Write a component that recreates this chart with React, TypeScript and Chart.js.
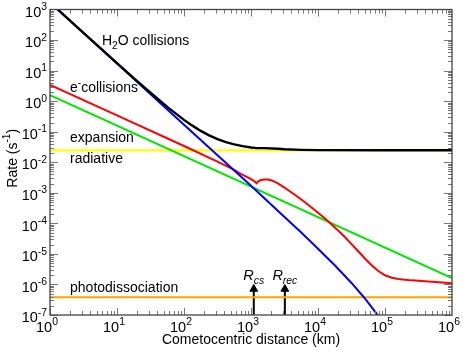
import { useEffect, useRef } from 'react';
import { Chart, registerables } from 'chart.js';

Chart.register(...registerables);

const FONT = '"Liberation Sans", Arial, Helvetica, sans-serif';

// Axis ticks
const xTickValues = [1, 10, 100, 1000, 10000, 100000, 1000000];
const yTickValues = [1e-7, 1e-6, 1e-5, 1e-4, 1e-3, 1e-2, 1e-1, 1, 10, 100, 1000];
const xTitle = 'Cometocentric distance (km)';
const yTitle = 'Rate (s^{-1})';

// H2O collisions (black)
const h2oX = [1, 3.162, 10, 17.78, 31.62, 56.23, 100, 133.4, 177.8, 237.1, 316.2, 421.7, 562.3, 749.9, 1000, 1216, 1585, 2512, 3162, 5623, 10000, 100000, 1000000];
const h2oY = [1705, 171.6, 17.52, 5.67, 1.88, 0.651, 0.244, 0.158, 0.106, 0.0755, 0.0569, 0.0458, 0.0384, 0.0336, 0.0305, 0.029, 0.0289, 0.0276, 0.0266, 0.0255, 0.0249, 0.0246, 0.0246];

// blue curve
const blueX = [1, 10, 100, 1000, 3162, 5623, 10000, 17783, 31623, 50119, 63096, 79433, 100000];
const blueY = [1700, 17, 0.17, 1.7e-3, 1.62e-4, 5.0e-5, 1.48e-5, 4.27e-6, 1.12e-6, 3.47e-7, 1.82e-7, 9.3e-8, 4.5e-8];

// e- collisions (red)
const redX = [1, 10, 100, 316.2, 562.3, 691.8, 794.3, 1000, 1122, 1216, 1259, 1318, 1413, 1585, 1778, 1995, 2239, 2512, 3162, 3981, 5012, 6310, 7943, 10000, 12589, 15849, 19953, 25119, 31623, 39811, 50119, 63096, 79433, 100000, 125893, 158489, 199526, 251189, 398107, 630957, 1000000];
const redY = [3.4, 0.34, 0.034, 0.0105, 5.62e-3, 4.27e-3, 3.63e-3, 2.82e-3, 2.4e-3, 2.04e-3, 2.26e-3, 2.45e-3, 2.63e-3, 2.72e-3, 2.72e-3, 2.57e-3, 2.32e-3, 2.04e-3, 1.47e-3, 1.04e-3, 7.26e-4, 4.98e-4, 3.36e-4, 2.23e-4, 1.46e-4, 9.4e-5, 5.86e-5, 3.56e-5, 2.09e-5, 1.22e-5, 7.1e-6, 4.23e-6, 2.76e-6, 2.0e-6, 1.66e-6, 1.51e-6, 1.43e-6, 1.36e-6, 1.27e-6, 1.17e-6, 1.1e-6];

// expansion (green)
const greenX = [1, 1000000];
const greenY = [1.58, 1.6e-6];

// radiative (yellow)
const yellowX = [1, 1000000];
const yellowY = [0.0245, 0.0245];

// photodissociation (orange)
const orangeX = [1, 1000000];
const orangeY = [3.8e-7, 3.8e-7];

// markers R_cs, R_rec
const markerX = [1100, 3200];
const markerNames = ['R_{cs}', 'R_{rec}'];
const arrowBaseY = 1e-7;
const arrowTopY = 7.1e-7;
const markerLabelY = 1.4e-6;

// in-plot labels
const labelTexts = ['H_{2}O collisions', 'e^{-}collisions', 'expansion', 'radiative', 'photodissociation'];
const labelX = [5.97, 1.99, 1.99, 1.99, 1.99];
const labelY = [68.9, 2.0, 0.046, 0.0094, 5.66e-7];

const expText = (v: number) => '10^{' + Math.round(Math.log10(v)) + '}';

type Part = { t: string; k: string };
function parseRich(text: string): Part[] {
  const re = /([_^])\{([^}]*)\}/g;
  const parts: Part[] = [];
  let last = 0;
  let m: RegExpExecArray | null;
  while ((m = re.exec(text))) {
    if (m.index > last) parts.push({ t: text.slice(last, m.index), k: '' });
    parts.push({ t: m[2], k: m[1] });
    last = re.lastIndex;
  }
  if (last < text.length) parts.push({ t: text.slice(last), k: '' });
  return parts;
}
function richFont(size: number, italic: boolean, k: string) {
  const s = k ? Math.round(size * 0.72 * 10) / 10 : size;
  return `${italic ? 'italic ' : ''}${s}px ${FONT}`;
}
function measureRich(ctx: CanvasRenderingContext2D, text: string, size: number, italic: boolean) {
  let w = 0;
  for (const p of parseRich(text)) {
    ctx.font = richFont(size, italic, p.k);
    w += ctx.measureText(p.t).width;
  }
  return w;
}
function drawRich(ctx: CanvasRenderingContext2D, text: string, x: number, y: number, size: number, italic: boolean) {
  let cx = x;
  for (const p of parseRich(text)) {
    ctx.font = richFont(size, italic, p.k);
    const dy = p.k === '_' ? size * 0.28 : p.k === '^' ? -size * 0.45 : 0;
    ctx.fillText(p.t, cx, y + dy);
    cx += ctx.measureText(p.t).width;
  }
}

const TICK_SIZE = 14.5;

const frameTicks = {
  id: 'frameTicks',
  afterDatasetsDraw(chart: any) {
    const { ctx, chartArea: a } = chart;
    const xs = chart.scales.x;
    const ys = chart.scales.y;
    ctx.save();
    ctx.strokeStyle = '#777';
    ctx.lineWidth = 1;
    ctx.beginPath();
    for (let d = 0; d < 6; d++) {
      for (let m = 1; m <= 9; m++) {
        const v = m * Math.pow(10, d);
        const px = Math.round(xs.getPixelForValue(v)) + 0.5;
        const len = m === 1 ? 7 : 4;
        ctx.moveTo(px, a.bottom);
        ctx.lineTo(px, a.bottom - len);
        ctx.moveTo(px, a.top);
        ctx.lineTo(px, a.top + len);
      }
    }
    for (let d = -7; d < 3; d++) {
      for (let m = 1; m <= 9; m++) {
        const v = m * Math.pow(10, d);
        const py = Math.round(ys.getPixelForValue(v)) + 0.5;
        const len = m === 1 ? 8 : 4;
        ctx.moveTo(a.left, py);
        ctx.lineTo(a.left + len, py);
        ctx.moveTo(a.right, py);
        ctx.lineTo(a.right - len, py);
      }
    }
    ctx.stroke();
    ctx.strokeStyle = '#444';
    ctx.lineWidth = 1.3;
    ctx.strokeRect(a.left, a.top, a.right - a.left, a.bottom - a.top);

    // tick labels
    ctx.fillStyle = '#000';
    ctx.textAlign = 'left';
    ctx.textBaseline = 'alphabetic';
    xs.ticks.forEach((t: any) => {
      const s = expText(t.value);
      const w = measureRich(ctx, s, TICK_SIZE, false);
      const px = xs.getPixelForValue(t.value);
      drawRich(ctx, s, px - 3 - w / 2, a.bottom + 17, TICK_SIZE, false);
    });
    ys.ticks.forEach((t: any) => {
      const s = expText(t.value);
      const w = measureRich(ctx, s, TICK_SIZE, false);
      const py = ys.getPixelForValue(t.value);
      drawRich(ctx, s, a.left - 3 - w, py + 7.2, TICK_SIZE, false);
    });

    // y title
    const tw = measureRich(ctx, yTitle, 14, false);
    ctx.translate(16.5, (a.top + a.bottom) / 2 - 4);
    ctx.rotate(-Math.PI / 2);
    drawRich(ctx, yTitle, -tw / 2, 0, 14, false);
    ctx.restore();
  },
};

const textLabels = {
  id: 'textLabels',
  afterDatasetsDraw(chart: any) {
    const { ctx } = chart;
    const xs = chart.scales.x;
    const ys = chart.scales.y;
    ctx.save();
    ctx.fillStyle = '#000';
    ctx.textAlign = 'left';
    ctx.textBaseline = 'alphabetic';
    labelTexts.forEach((t, i) => {
      drawRich(ctx, t, xs.getPixelForValue(labelX[i]), ys.getPixelForValue(labelY[i]), 14, false);
    });
    markerNames.forEach((t, i) => {
      const w = measureRich(ctx, t, 14.5, true);
      drawRich(ctx, t, xs.getPixelForValue(markerX[i]) - w / 2, ys.getPixelForValue(markerLabelY), 14.5, true);
    });
    ctx.restore();
  },
};

const series = (xs: number[], ys: number[], color: string, width: number) => ({
  data: xs.map((x, i) => ({ x, y: ys[i] })),
  showLine: true,
  borderColor: color,
  backgroundColor: color,
  borderWidth: width,
  pointRadius: 0,
  pointHoverRadius: 0,
  fill: false,
  tension: 0,
  clip: 0,
});

export default function App() {
  const ref = useRef<HTMLCanvasElement>(null);
  useEffect(() => {
    document.body.style.margin = '0';
    const canvas = ref.current!;
    const chart = new Chart(canvas, {
      type: 'scatter',
      data: {
        datasets: [
          series(h2oX, h2oY, '#000000', 2.4),
          series(blueX, blueY, '#0000ff', 2),
          series(redX, redY, '#ff0000', 2),
          series(greenX, greenY, '#00e600', 2),
          series(yellowX, yellowY, '#ffff00', 2.4),
          series(orangeX, orangeY, '#ffa500', 2),
          ...markerX.map((mx) => ({
            data: [
              { x: mx, y: arrowBaseY },
              { x: mx, y: arrowTopY },
            ],
            showLine: true,
            borderColor: '#000',
            backgroundColor: '#000',
            borderWidth: 2,
            pointRadius: [0, 4.5],
            pointHoverRadius: [0, 4.5],
            pointStyle: 'triangle',
            pointBackgroundColor: '#000',
            pointBorderColor: '#000',
            pointBorderWidth: 1,
            clip: 0,
          })),
        ] as any,
      },
      options: {
        animation: false,
        responsive: false,
        devicePixelRatio: 1,
        layout: { padding: { left: 0, top: 9.5, right: 11, bottom: 0 } },
        plugins: { legend: { display: false }, tooltip: { enabled: false } },
        events: [],
        scales: {
          x: {
            type: 'logarithmic',
            position: 'bottom',
            min: 1,
            max: 1e6,
            grid: { display: false, drawTicks: false },
            border: { display: false },
            ticks: { display: false },
            afterBuildTicks: (s: any) => {
              s.ticks = xTickValues.map((v) => ({ value: v }));
            },
            afterFit: (s: any) => {
              s.height = 38;
            },
            title: {
              display: true,
              text: xTitle,
              color: '#000',
              font: { family: FONT, size: 14 },
              padding: { top: 0, bottom: 4 },
            },
          },
          y: {
            type: 'logarithmic',
            position: 'left',
            min: 1e-7,
            max: 1e3,
            grid: { display: false, drawTicks: false },
            border: { display: false },
            ticks: { display: false },
            afterBuildTicks: (s: any) => {
              s.ticks = yTickValues.map((v) => ({ value: v }));
            },
            afterFit: (s: any) => {
              s.width = 50;
            },
            title: { display: false },
          },
        },
      } as any,
      plugins: [frameTicks, textLabels],
    });
    return () => chart.destroy();
  }, []);
  return (
    <div style={{ width: 463, height: 353 }}>
      <canvas ref={ref} width={463} height={353} style={{ display: 'block' }} />
    </div>
  );
}
